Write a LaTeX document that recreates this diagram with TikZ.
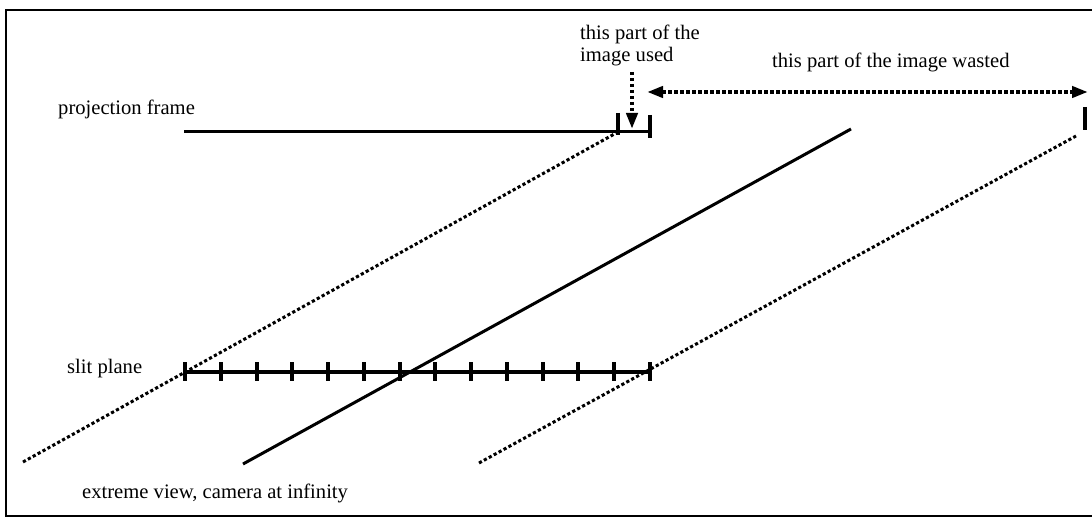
\documentclass[tikz,border=0pt]{standalone}
\usepackage{fontspec}
\setmainfont{Liberation Serif}
\usetikzlibrary{arrows.meta}
\begin{document}
\begin{tikzpicture}[x=1pt,y=-1pt,
  lbl/.style={inner sep=0pt, anchor=base west, font=\fontsize{20.6}{22}\selectfont},
  frameline/.style={line width=2.2pt},
  plainline/.style={line width=3pt},
  slitline/.style={line width=4.5pt},
  tickmark/.style={line width=4pt},
  dotline/.style={line width=3pt, dash pattern=on 3.2pt off 2.4pt},
  dotarrow/.style={line width=4pt, dash pattern=on 3.5pt off 2.5pt},
  tip/.tip={Triangle[length=16pt,width=11pt]},
]
\useasboundingbox (0,0) rectangle (1092,521);
% frame
\coordinate (ftr) at (1092,10);
\coordinate (ftl) at (6,10);
\coordinate (fbl) at (6,516);
\coordinate (fbr) at (1092,516);
\draw[frameline] (ftr) -- (ftl) -- (fbl) -- (fbr);

% labels
\node[lbl] (projlbl) at (58,115) {projection frame};
\node[lbl] (slitlbl) at (67,373) {slit plane};
\node[lbl] (extlbl) at (82,498) {extreme view, camera at infinity};
\node[lbl] (usedA) at (580,40) {this part of the};
\node[lbl] (usedB) at (580,62) {image used};
\node[lbl] (wastlbl) at (772,68) {this part of the image wasted};

% projection frame
\coordinate (pf0) at (184,132);
\coordinate (pf1) at (650,132);
\draw[plainline] (pf0) -- (pf1);
\coordinate (pfiT) at (618,113);
\coordinate (pfiB) at (618,135);
\coordinate (pfi) at (618,132);
\draw[tickmark] (pfiT) -- (pfiB);
\coordinate (pfeT) at (650,115);
\coordinate (pfeB) at (650,138);
\draw[tickmark] (pfeT) -- (pfeB);
\coordinate (rtT) at (1085,107);
\coordinate (rtB) at (1085,130);
\draw[tickmark] (rtT) -- (rtB);

% slit plane
\coordinate (sl0) at (185,372);
\coordinate (sl1) at (650,372);
\draw[slitline] (sl0) -- (sl1);
\foreach \i in {0,...,13} {
  \pgfmathsetmacro{\xx}{185+\i*35.77}
  \draw[tickmark] (\xx,362) -- (\xx,381);
}

% rays
\coordinate (dl0) at (23,462);
\draw[dotline] (dl0) -- (pfi);
\coordinate (dr0) at (479,463);
\coordinate (dr1) at (1076,136);
\draw[dotline] (dr0) -- (dr1);
\coordinate (sv0) at (243,464);
\coordinate (sv1) at (851,129);
\draw[plainline] (sv0) -- (sv1);

% arrows
\coordinate (usedS) at (632,72);
\coordinate (usedE) at (632,129);
\draw[dotarrow,-tip] (usedS) -- (usedE);
\coordinate (wL) at (647,92);
\coordinate (wR) at (1088,92);
\draw[dotarrow,tip-tip] (wL) -- (wR);
\end{tikzpicture}
\end{document}
